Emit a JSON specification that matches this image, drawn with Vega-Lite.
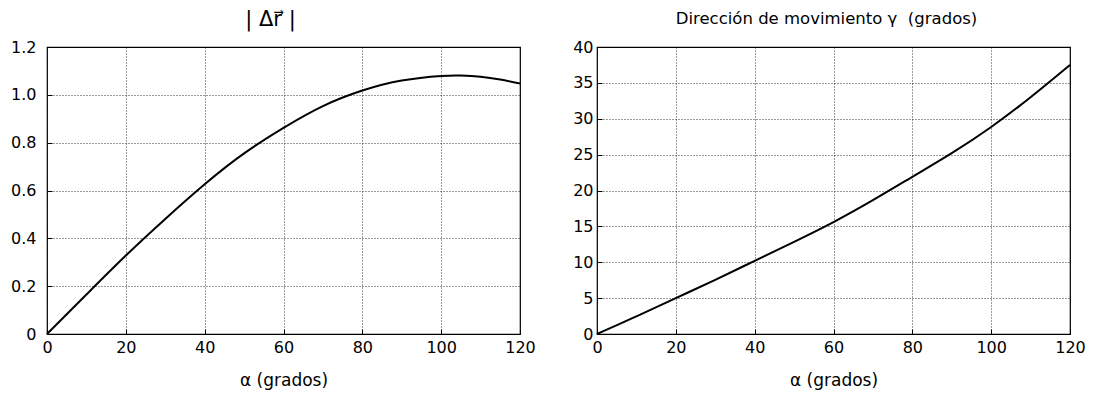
{
  "$schema": "https://vega.github.io/schema/vega-lite/v6.json",
  "padding": {"left": 9, "top": 8, "right": 5, "bottom": 5},
  "spacing": 36,
  "config": {
    "font": "DejaVu Sans",
    "view": {"stroke": "black", "strokeWidth": 1.2},
    "axis": {
      "grid": true,
      "gridColor": "black",
      "gridDash": [1, 2],
      "gridOpacity": 1,
      "gridWidth": 0.8,
      "domain": false,
      "ticks": true,
      "tickSize": -5,
      "tickColor": "black",
      "tickWidth": 1,
      "labelFlush": false,
      "labelFont": "DejaVu Sans",
      "labelFontSize": 16,
      "labelColor": "black",
      "titleFont": "DejaVu Sans",
      "titleFontWeight": "normal",
      "titleColor": "black"
    },
    "title": {"font": "DejaVu Sans", "fontWeight": "normal", "color": "black"}
  },
  "datasets": {
    "dr": [
      {"alpha": 0, "v": 0},
      {"alpha": 10, "v": 0.165},
      {"alpha": 20, "v": 0.328},
      {"alpha": 30, "v": 0.481},
      {"alpha": 40, "v": 0.626},
      {"alpha": 50, "v": 0.755},
      {"alpha": 60, "v": 0.862},
      {"alpha": 70, "v": 0.953},
      {"alpha": 80, "v": 1.018},
      {"alpha": 90, "v": 1.06},
      {"alpha": 100, "v": 1.079},
      {"alpha": 105, "v": 1.081},
      {"alpha": 110, "v": 1.076},
      {"alpha": 115, "v": 1.064},
      {"alpha": 120, "v": 1.047}
    ],
    "gamma": [
      {"alpha": 0, "v": 0},
      {"alpha": 10, "v": 2.45},
      {"alpha": 20, "v": 5.0},
      {"alpha": 30, "v": 7.55},
      {"alpha": 40, "v": 10.2},
      {"alpha": 50, "v": 12.85},
      {"alpha": 60, "v": 15.6},
      {"alpha": 70, "v": 18.65},
      {"alpha": 80, "v": 21.9},
      {"alpha": 90, "v": 25.2},
      {"alpha": 100, "v": 28.85},
      {"alpha": 110, "v": 33.0},
      {"alpha": 120, "v": 37.5}
    ]
  },
  "hconcat": [
    {
      "width": 473,
      "height": 287,
      "title": {"text": "| Δr⃗ |", "fontSize": 21, "offset": 9, "dx": -13},
      "data": {"name": "dr"},
      "mark": {"type": "line", "color": "black", "strokeWidth": 2, "interpolate": "natural"},
      "encoding": {
        "x": {"field": "alpha", "type": "quantitative", "scale": {"domain": [0, 120], "nice": false},
              "axis": {"values": [0, 20, 40, 60, 80, 100, 120], "title": "α (grados)", "titleFontSize": 17, "labelPadding": 10, "titlePadding": 17}},
        "y": {"field": "v", "type": "quantitative", "scale": {"domain": [0, 1.2], "nice": false},
              "axis": {"values": [0, 0.2, 0.4, 0.6, 0.8, 1.0, 1.2], "format": ".1f", "labelExpr": "datum.value == 0 ? '0' : datum.label", "title": null, "labelPadding": 16}}
      }
    },
    {
      "width": 473,
      "height": 287,
      "title": {"text": "Dirección de movimiento γ\u00a0\u00a0(grados)", "fontSize": 16.5, "offset": 12, "dx": -7},
      "data": {"name": "gamma"},
      "mark": {"type": "line", "color": "black", "strokeWidth": 2, "interpolate": "natural"},
      "encoding": {
        "x": {"field": "alpha", "type": "quantitative", "scale": {"domain": [0, 120], "nice": false},
              "axis": {"values": [0, 20, 40, 60, 80, 100, 120], "title": "α (grados)", "titleFontSize": 17, "labelPadding": 10, "titlePadding": 17}},
        "y": {"field": "v", "type": "quantitative", "scale": {"domain": [0, 40], "nice": false},
              "axis": {"values": [0, 5, 10, 15, 20, 25, 30, 35, 40], "title": null, "labelPadding": 9}}
      }
    }
  ]
}
